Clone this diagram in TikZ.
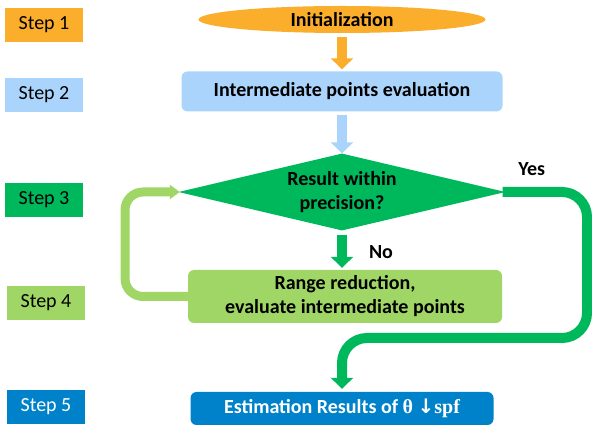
\documentclass[tikz,border=0pt]{standalone}
\usepackage{fontspec}
\setmainfont{Carlito}
\newfontfamily\serifbold{Liberation Serif}
\newfontfamily\arrowfont{DejaVu Sans}
\usepackage{tikz}
\usetikzlibrary{shapes.geometric, arrows.meta}
\definecolor{stepone}{RGB}{251,173,44}
\definecolor{steptwo}{RGB}{170,212,252}
\definecolor{stepthree}{RGB}{0,184,92}
\definecolor{stepfour}{RGB}{160,214,101}
\definecolor{stepfive}{RGB}{0,130,202}
\newcommand{\boxfont}{\bfseries\fontsize{20}{24}\selectfont}
\tikzstyle{steplabel} = [rectangle, minimum width=78pt, minimum height=34pt, inner sep=0pt, text centered, font=\fontsize{20}{24}\selectfont]
\tikzstyle{startstop} = [ellipse, minimum width=287pt, minimum height=27pt, inner sep=0pt, text centered, fill=stepone, font=\boxfont]
\tikzstyle{process} = [rectangle, rounded corners=6pt, inner sep=0pt, align=center, font=\boxfont]
\tikzstyle{decision} = [diamond, aspect=4.25, minimum width=327pt, minimum height=77pt, inner sep=0pt, align=center, fill=stepthree, font=\boxfont]
\tikzstyle{answer} = [inner sep=0pt, text=black, font=\boxfont]
\tikzstyle{arrow} = [line width=10pt, -{Triangle[width=22pt,length=11pt]}]

\begin{document}
\begin{tikzpicture}[x=1pt, y=-1pt, node distance=72pt]
\useasboundingbox (0,0) rectangle (592,427);
\node (init) [startstop] at (342,19.5) {Initialization};
\node (evalpts) [process, fill=steptwo, minimum width=321pt, minimum height=40pt, below of=init] {Intermediate points evaluation};
\node (check) [decision, below of=evalpts, yshift=-28.5pt] {Result within\\precision?};
\node (reduce) [process, fill=stepfour, minimum width=314pt, minimum height=53pt, below of=check, yshift=-32.5pt, xshift=3pt] {Range reduction,\\evaluate intermediate points};
\node (result) [process, fill=stepfive, text=white, minimum width=303pt, minimum height=33pt, below of=reduce, yshift=-40pt, xshift=-3pt] {Estimation Results of {\serifbold θ} {\arrowfont ↓}{\serifbold spf}};

\node (step1) [steplabel, fill=stepone] at (44,25) {Step 1};
\node (step2) [steplabel, fill=steptwo, below of=step1, yshift=2pt] {Step 2};
\node (step3) [steplabel, fill=stepthree, below of=step2, yshift=-33pt] {Step 3};
\node (step4) [steplabel, fill=stepfour, below of=step3, yshift=-31pt, xshift=2pt] {Step 4};
\node (step5) [steplabel, fill=stepfive, text=white, below of=step4, yshift=-32pt] {Step 5};

\coordinate (loopleft) at (125,250);
\coordinate (yesdrop) at (587,338);

\draw [arrow, stepone, shorten <=4pt, shorten >=2pt] (init) -- (evalpts);
\draw [arrow, steptwo, shorten <=3pt] (evalpts) -- (check);
\draw [arrow, stepthree, shorten <=4pt, shorten >=2pt] (check.south) -- node[answer, anchor=west, xshift=22pt, yshift=-2pt] {No} (check.south |- reduce.north);
\draw [line width=9pt, stepfour, -{Triangle[width=14pt,length=10pt]}, rounded corners=18pt, shorten >=-1.5pt] (reduce.west) -| (loopleft) |- (check.west);
\draw [arrow, stepthree, rounded corners=25pt, shorten <=-3pt, shorten >=3pt] (check.east) -| node[answer, pos=0.16, anchor=south, yshift=11pt] {Yes} (yesdrop) -| (result.north);
\end{tikzpicture}
\end{document}
